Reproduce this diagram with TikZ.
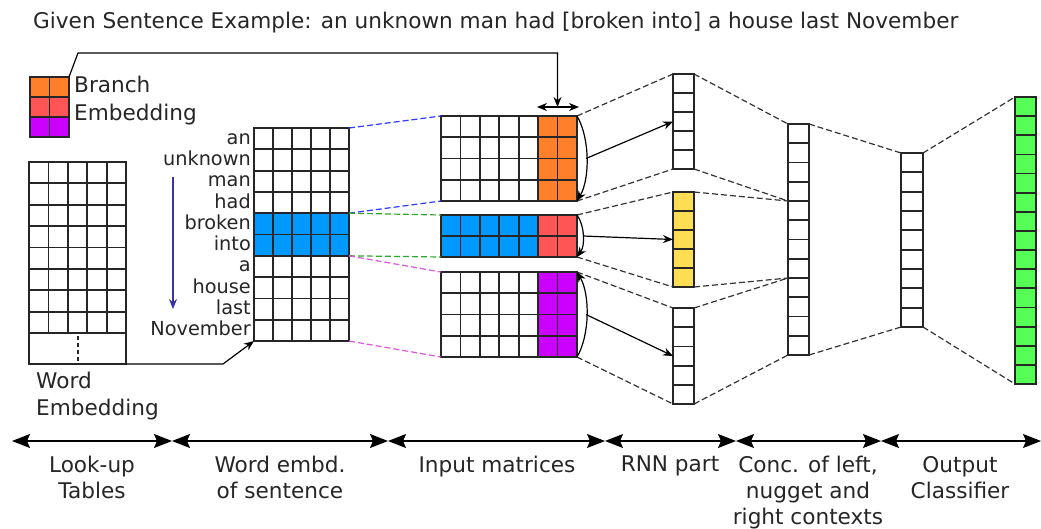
\documentclass[tikz,border=0pt]{standalone}
\usepackage{fontspec}
\setmainfont{DejaVu Sans}
\usetikzlibrary{arrows.meta,calc}
\definecolor{corange}{HTML}{FF7F2A}
\definecolor{cred}{HTML}{FF5555}
\definecolor{cpurple}{HTML}{CC00FF}
\definecolor{cblue}{HTML}{0099FF}
\definecolor{cyellow}{HTML}{FFDD55}
\definecolor{cgreen}{HTML}{55FF55}
\definecolor{cnavy}{HTML}{3535A5}
\definecolor{dblue}{HTML}{2E3CFF}
\definecolor{dgreen}{HTML}{2EA82E}
\definecolor{dmag}{HTML}{DD55DD}
\newcommand\mgrid[6]{%
  \foreach \k in {0,...,#5}{\draw[gl] ({#1+(#3-#1)*\k/#5},#2) -- ({#1+(#3-#1)*\k/#5},#4);}%
  \foreach \k in {0,...,#6}{\draw[gl] (#1,{#2+(#4-#2)*\k/#6}) -- (#3,{#2+(#4-#2)*\k/#6});}%
}
\begin{document}
\begin{tikzpicture}[x=1pt,y=-1pt,
  gl/.style={line width=1.8pt, draw=black!85, line cap=rect},
  mat/.style={inner sep=0pt, outer sep=0pt, anchor=north west},
  dsh/.style={dash pattern=on 6pt off 3pt, line width=1.2pt},
  arr/.style={-{Stealth[length=10pt,width=8pt]}, line width=1.2pt},
  axis/.style={{Stealth[length=18pt,width=14pt,inset=3pt]}-{Stealth[length=18pt,width=14pt,inset=3pt]}, line width=1.2pt},
  txt/.style={font=\fontsize{19.3}{26}\selectfont, inner sep=0pt, text=black!85},
  btxt/.style={font=\fontsize{21.6}{26}\selectfont, inner sep=0pt, text=black!85},
]
\useasboundingbox[fill=white] (0,0) rectangle (1041,528);

% title
\node[btxt, anchor=base west] (title) at (33,28) {Given Sentence Example: an unknown man had [broken into] a house last November};

% placeholder nodes for matrices
\node[mat, minimum width=39pt, minimum height=60pt] (lg) at (30,77) {};
\node[mat, minimum width=97pt, minimum height=202pt] (lt) at (29,162) {};
\node[mat, minimum width=95pt, minimum height=213pt] (we) at (254,128) {};
\node[mat, minimum width=136pt, minimum height=85pt] (inA) at (441,116) {};
\node[mat, minimum width=136pt, minimum height=42pt] (inB) at (441,215) {};
\node[mat, minimum width=136pt, minimum height=85pt] (inC) at (441,272) {};
\node[mat, minimum width=21pt, minimum height=95pt] (rA) at (673,74) {};
\node[mat, minimum width=21pt, minimum height=95pt] (rB) at (673,192) {};
\node[mat, minimum width=21pt, minimum height=96pt] (rC) at (673,308) {};
\node[mat, minimum width=21pt, minimum height=231pt] (cc) at (788,124) {};
\node[mat, minimum width=22pt, minimum height=174pt] (hd) at (901,153) {};
\node[mat, minimum width=21pt, minimum height=287pt] (out) at (1015,97) {};

% fills
\fill[corange] (30,77) rectangle (69,97);
\fill[cred] (30,97) rectangle (69,117);
\fill[cpurple] (30,117) rectangle (69,137);
\fill[cblue] (254,213.2) rectangle (349,255.8);
\fill[corange] (538.14,116) rectangle (577,201);
\fill[cblue] (441,215) rectangle (538.14,257);
\fill[cred] (538.14,215) rectangle (577,257);
\fill[cpurple] (538.14,272) rectangle (577,357);
\fill[cyellow] (673,192) rectangle (694,287);
\fill[cgreen] (1015,97) rectangle (1036,384);

% grids
\mgrid{30}{77}{69}{137}{2}{3}
\mgrid{29}{162}{126}{333}{5}{8}
\draw[gl] (29,333) rectangle (126,364);
\draw[dash pattern=on 4pt off 3pt, line width=1.1pt, black!85] (78,336) -- (78,362);
\mgrid{254}{128}{349}{341}{5}{10}
\mgrid{441}{116}{577}{201}{7}{4}
\mgrid{441}{215}{577}{257}{7}{2}
\mgrid{441}{272}{577}{357}{7}{4}
\mgrid{673}{74}{694}{169}{1}{5}
\mgrid{673}{192}{694}{287}{1}{5}
\mgrid{673}{308}{694}{404}{1}{5}
\mgrid{788}{124}{809}{355}{1}{12}
\mgrid{901}{153}{923}{327}{1}{9}
\mgrid{1015}{97}{1036}{384}{1}{15}

% legend text
\node[btxt, anchor=base west] (lb1) at (74,92) {Branch};
\node[btxt, anchor=base west] (lb2) at (74,120) {Embedding};
\node[btxt, anchor=base west] (wl1) at (36,388) {Word};
\node[btxt, anchor=base west] (wl2) at (36,415) {Embedding};

% words
\foreach \w [count=\i] in {an,unknown,man,had,broken,into,a,house,last,November}{
  \node[txt, anchor=base east] (w\i) at (251,{128+21.3*(\i-0.5)+5.5}) {\w};
}
\coordinate (nt) at (173,177);
\coordinate (nb) at (173,309);
\draw[-{Stealth[length=10pt,width=8pt]}, line width=1.2pt, cnavy] (nt) -- (nb);

% lookup -> word embedding
\coordinate (bend) at (223,364);
\draw[arr] (lt.south east) -- (bend) -- (we.south west);

% legend -> branch columns
\coordinate (l1) at (78,53);
\coordinate (l2) at (557.5,53);
\coordinate (l3) at (557.5,107);
\coordinate (dl) at (537,107);
\coordinate (dr) at (579,107);
\draw[arr] (lg.north east) -- (l1) -- (l2) -- (l3);
\draw[{Stealth[length=10pt,width=8pt]}-{Stealth[length=10pt,width=8pt]}, line width=1.2pt] (dl) -- (dr);

% word embedding -> input matrices
\coordinate (s1) at ($(we.north east)!0.4!(we.south east)$);
\coordinate (s2) at ($(we.north east)!0.6!(we.south east)$);
\draw[dsh, dblue] (we.north east) -- (inA.north west);
\draw[dsh, dblue] (s1) -- (inA.south west);
\draw[dsh, dgreen] (s1) -- (inB.north west);
\draw[dsh, dgreen] (s2) -- (inB.south west);
\draw[dsh, dmag] (s2) -- (inC.north west);
\draw[dsh, dmag] (we.south east) -- (inC.south west);

% input -> RNN
\draw[dsh, black!80] (inA.north east) -- (rA.north west);
\draw[dsh, black!80] (inA.south east) -- (rA.south west);
\draw[dsh, black!80] (inB.north east) -- (rB.north west);
\draw[dsh, black!80] (inB.south east) -- (rB.south west);
\draw[dsh, black!80] (inC.north east) -- (rC.north west);
\draw[dsh, black!80] (inC.south east) -- (rC.south west);

\draw[arr] (inA.north east) .. controls +(13,22) and +(13,-22) .. (inA.south east);
\draw[arr] (inB.north east) .. controls +(8,11) and +(8,-11) .. (inB.south east);
\draw[arr] (inC.south east) .. controls +(13,-22) and +(13,22) .. (inC.north east);
\coordinate (ca) at ($(inA.east)+(9,0)$);
\coordinate (cb) at ($(inB.east)+(6,0)$);
\coordinate (cc0) at ($(inC.east)+(9,0)$);
\draw[arr] (ca) -- (rA.west);
\draw[arr] (cb) -- (rB.west);
\draw[arr] (cc0) -- (rC.west);

% RNN -> concat
\coordinate (c4) at ($(cc.north west)!4/12!(cc.south west)$);
\coordinate (c8) at ($(cc.north west)!8/12!(cc.south west)$);
\draw[dsh, black!80] (rA.north east) -- (cc.north west);
\draw[dsh, black!80] (rA.south east) -- (c4);
\draw[dsh, black!80] (rB.north east) -- (c4);
\draw[dsh, black!80] (rB.south east) -- (c8);
\draw[dsh, black!80] (rC.north east) -- (c8);
\draw[dsh, black!80] (rC.south east) -- (cc.south west);

% concat -> hidden -> output
\draw[dsh, black!80] (cc.north east) -- (hd.north west);
\draw[dsh, black!80] (cc.south east) -- (hd.south west);
\draw[dsh, black!80] (hd.north east) -- (out.north west);
\draw[dsh, black!80] (hd.south east) -- (out.south west);

% axis
\coordinate (a0) at (12,441);
\coordinate (a1) at (172,441);
\coordinate (a2) at (388,441);
\coordinate (a3) at (605,441);
\coordinate (a4) at (736,441);
\coordinate (a5) at (881,441);
\coordinate (a6) at (1041,441);
\draw[axis] (a0) -- (a1);
\draw[axis] (a1) -- (a2);
\draw[axis] (a2) -- (a3);
\draw[axis] (a3) -- (a4);
\draw[axis] (a4) -- (a5);
\draw[axis] (a5) -- (a6);

\node[btxt, anchor=north, align=center] (t1) at (92,456) {Look-up\\Tables};
\node[btxt, anchor=north, align=center] (t2) at (280,456) {Word embd.\\of sentence};
\node[btxt, anchor=north, align=center] (t3) at (497,456) {Input matrices};
\node[btxt, anchor=north, align=center] (t4) at (670,456) {RNN part};
\node[btxt, anchor=north, align=center] (t5) at (808,456) {Conc. of left,\\nugget and\\right contexts};
\node[btxt, anchor=north, align=center] (t6) at (960,456) {Output\\Classifier};
\end{tikzpicture}
\end{document}
